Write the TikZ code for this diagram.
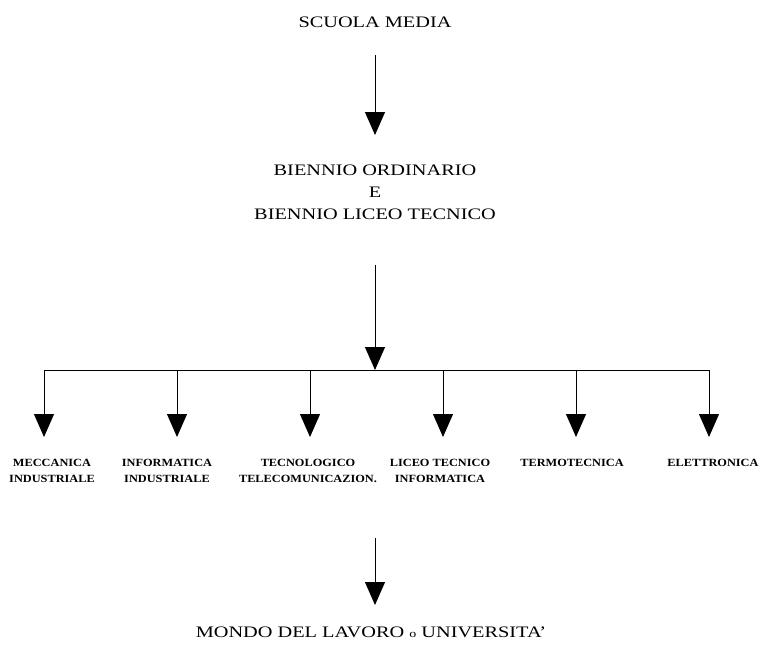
\documentclass[tikz,border=0pt]{standalone}
\usepackage{fontspec}
\setmainfont{Liberation Serif}
\newfontfamily\bigfont[FakeStretch=1.27]{Liberation Serif}
\newfontfamily\smallfont[FakeStretch=1.12]{Liberation Serif}
\usetikzlibrary{arrows.meta}
\begin{document}
\begin{tikzpicture}[x=1pt,y=-1pt,
  big/.style={font=\bigfont\fontsize{16}{22}\selectfont,align=center,inner sep=0pt},
  small/.style={font=\smallfont\fontsize{11}{16}\selectfont\bfseries,align=center,inner sep=0pt},
  arr/.style={line width=1pt,-{Triangle[width=20pt,length=23pt]}},
  ln/.style={line width=1pt}]
\useasboundingbox (0,0) rectangle (761,645);
\node[big] (sm) at (375,22) {SCUOLA MEDIA};
\node[big] (bi) at (375,192) {BIENNIO ORDINARIO\\E\\BIENNIO LICEO TECNICO};
\coordinate (a1) at (375,55);
\coordinate (a2) at (375,135);
\draw[arr] (a1) -- (a2);
\coordinate (m1) at (375,265);
\coordinate (hub) at (375,370);
\draw[arr] (m1) -- (hub);
\coordinate (L) at (44,370);
\coordinate (R) at (709,370);
\draw[ln] (L) -- (R);
\foreach \x/\n in {44/1,177/2,310/3,443/4,576/5,709/6}{
  \coordinate (t\n) at (\x,370);
  \coordinate (b\n) at (\x,437);
  \draw[arr] (t\n) -- (b\n);
}
\node[small] (n1) at (52,471) {MECCANICA\\INDUSTRIALE};
\node[small] (n2) at (167,471) {INFORMATICA\\INDUSTRIALE};
\node[small] (n3) at (308,471) {TECNOLOGICO\\TELECOMUNICAZION.};
\node[small] (n4) at (440,471) {LICEO TECNICO\\INFORMATICA};
\node[small] (n5) at (572,463) {TERMOTECNICA};
\node[small] (n6) at (713,463) {ELETTRONICA};
\coordinate (d1) at (375,538);
\coordinate (d2) at (375,605);
\draw[arr] (d1) -- (d2);
\node[big] (mo) at (371,632) {MONDO DEL LAVORO {\fontsize{11}{12}\selectfont o} UNIVERSITA’};
\end{tikzpicture}
\end{document}
